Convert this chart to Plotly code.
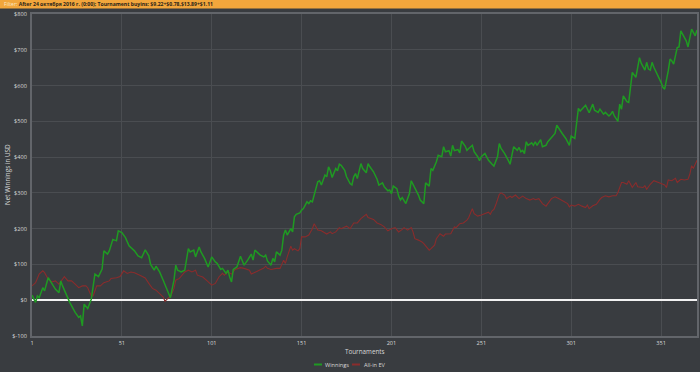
import plotly.graph_objects as go

# ---- data ----
win_t = [1,3,4,5,7,8,10,12,14,16,17,18,20,22,25,27,28,29,30,32,34,36,38,40,41,43,44,46,48,49,51,53,55,58,60,62,
         64,66,67,69,70,72,74,76,78,80,81,82,84,86,87,88,89,91,92,94,95,97,99,101,103,104,106,107,109,110,111,112,113,115,117,118,119,121,123,124,125,128,
         130,131,132,134,135,136,137,139,140,141,142,143,145,146,147,148,150,151,152,154,155,156,157,158,160,161,162,164,165,166,167,168,170,171,172,173,175,176,178,179,180,181,182,184,185,187,188,189,191,
         193,194,196,197,199,200,201,202,204,205,206,207,209,211,212,214,216,217,219,220,222,223,224,226,227,229,230,231,233,234,235,236,238,239,240,242,243,244,246,247,249,250,251,253,255,
         257,258,260,261,262,264,266,267,268,269,271,272,273,274,275,276,277,279,280,281,282,284,285,287,288,290,291,292,293,295,296,298,299,300,301,303,304,305,306,308,309,311,313,314,316,
         317,319,320,322,323,324,325,327,328,329,330,332,333,334,335,337,338,339,340,342,343,344,345,346,347,349,351,352,353,355,356,357,358,360,361,362,363,365,366,367,368,370,371]
winnings = [14,-6,12,7,35,26,63,45,31,21,54,40,17,-6,-34,-48,-44,-72,-11,-23,3,73,66,87,138,129,138,170,166,194,189,175,152,138,124,119,
            141,124,100,84,95,79,56,33,7,56,98,84,79,84,117,144,135,140,121,149,135,117,93,121,107,103,86,89,75,84,65,51,86,93,123,112,98,112,129,112,140,126,
            121,126,110,98,117,107,135,126,140,182,196,182,200,191,233,240,244,252,256,275,270,278,275,294,331,334,322,350,345,373,362,343,368,362,380,377,363,345,326,322,345,354,340,382,368,356,382,373,359,
            338,322,328,317,306,308,298,319,312,291,280,287,270,298,334,315,294,280,270,328,319,368,363,387,405,401,429,415,418,403,433,418,421,412,445,431,419,424,433,415,401,390,401,410,391,
            380,375,401,438,424,410,391,380,405,429,419,427,415,419,410,443,433,440,433,443,433,449,429,433,443,455,461,466,489,471,466,452,443,433,459,452,494,536,529,541,545,524,548,531,525,
            534,520,525,515,520,528,515,500,548,534,571,555,553,593,637,623,651,678,662,643,665,646,643,665,651,632,609,595,590,641,674,669,660,706,708,753,742,725,708,734,758,739,755]

ev_t = [1,3,5,7,8,10,12,14,16,18,19,21,23,25,27,29,31,32,34,35,37,39,41,44,45,48,50,52,54,56,58,61,64,66,68,70,72,74,75,77,78,80,81,83,86,88,90,92,93,96,98,101,103,105,107,108,110,112,114,117,119,122,123,126,128,
        130,131,132,134,137,139,141,142,143,145,146,147,149,150,151,153,155,157,158,160,162,165,167,168,170,172,173,176,178,180,182,184,187,188,191,193,195,197,199,201,203,205,207,208,210,212,213,214,216,218,219,221,222,223,225,226,228,230,231,234,236,237,239,241,243,244,246,247,249,251,253,255,256,257,258,259,
        261,262,264,265,267,268,270,272,274,276,278,280,281,283,285,287,290,292,294,297,299,300,301,303,305,307,309,310,311,313,315,317,318,320,322,324,326,327,329,330,332,333,335,337,338,341,342,343,345,347,349,351,353,354,355,357,359,360,362,364,366,367,368,369,370,371]
allin_ev = [40,49,73,82,77,59,51,54,45,59,66,54,54,45,35,40,40,35,12,12,40,40,49,54,61,63,66,82,75,79,77,70,62,47,33,28,19,9,-3,7,9,33,56,61,79,84,79,84,70,65,56,42,47,65,75,70,79,73,86,91,89,84,73,79,85,
            90,95,89,86,89,89,112,103,121,151,140,144,138,144,177,177,182,200,214,196,194,185,191,186,191,203,200,207,200,216,216,228,240,231,226,216,212,205,194,200,203,191,198,203,196,203,191,172,168,163,158,144,140,144,154,172,186,179,185,186,205,203,214,216,224,231,256,242,235,238,242,246,240,250,254,266,
            296,300,294,284,291,287,294,284,291,284,280,284,281,284,270,263,284,289,284,275,270,261,266,263,268,263,259,266,256,264,268,282,287,292,289,292,292,301,329,329,324,334,315,329,317,315,320,310,324,334,329,326,322,315,336,334,341,329,338,336,338,352,376,369,380,391]

x_tickvals = [1, 51, 101, 151, 201, 251, 301, 351]
y_tickvals = [-100, 0, 100, 200, 300, 400, 500, 600, 700, 800]
y_ticktext = ["$-100", "$0", "$100", "$200", "$300", "$400", "$500", "$600", "$700", "$800"]
series_names = ["Winnings", "All-in EV"]
series_colors = ["#1f9a22", "#8a2c2c"]

BG = "#393c40"
GRID = "#4a4d51"
AXIS = "#62656a"
TXT = "#d8d8d8"
FONT = "Open Sans"

L, R, T, B = 32, 3, 14, 36
W, H = 700, 372
PW, PH = W - L - R, H - T - B


def px_x(p):
    return (p - L) / PW


def px_y(p):
    return (H - B - p) / PH


fig = go.Figure()
fig.add_trace(go.Scatter(x=ev_t, y=allin_ev, mode="lines", name=series_names[1],
                         line=dict(color=series_colors[1], width=1.1)))
fig.add_trace(go.Scatter(x=win_t, y=winnings, mode="lines", name=series_names[0],
                         line=dict(color=series_colors[0], width=1.5)))

shapes = [
    dict(type="rect", xref="paper", yref="paper",
         x0=px_x(0), x1=px_x(W), y0=px_y(8.5), y1=px_y(0),
         fillcolor="#f2a63c", line=dict(width=0), layer="above"),
]
annotations = [
    dict(xref="paper", yref="paper", x=px_x(2), y=px_y(4.3), xanchor="left", yanchor="middle",
         showarrow=False,
         text="<span style='color:#fbe9c8'>Filter:</span> <b>After 24 октября 2016 г. (0:00); Tournament buyins: $9.22+$0.78,$13.89+$1.11</b>",
         font=dict(size=5.1, color="#2b2418", family=FONT)),
    dict(xref="paper", yref="paper", x=px_x(7), y=0.5, xanchor="center", yanchor="middle",
         showarrow=False, textangle=-90, text="Net Winnings in USD",
         font=dict(size=6.3, color=TXT, family=FONT)),
    dict(xref="paper", yref="paper", x=0.5, y=px_y(351), xanchor="center", yanchor="middle",
         showarrow=False, text="Tournaments",
         font=dict(size=6.3, color=TXT, family=FONT)),
]
# custom compact legend
legend_pos = [(314, 323), (352, 362)]
for (lx, tx), name, col in zip(legend_pos, series_names, series_colors):
    shapes.append(dict(type="line", xref="paper", yref="paper",
                       x0=px_x(lx), x1=px_x(lx + 8), y0=px_y(364.5), y1=px_y(364.5),
                       line=dict(color=col, width=2)))
    annotations.append(dict(xref="paper", yref="paper", x=px_x(tx), y=px_y(364.5),
                            xanchor="left", yanchor="middle", showarrow=False, text=name,
                            font=dict(size=5.6, color=TXT, family=FONT)))

fig.update_layout(
    width=W, height=H,
    margin=dict(l=L, r=R, t=T, b=B, autoexpand=False),
    paper_bgcolor=BG, plot_bgcolor=BG,
    font=dict(family=FONT, size=6, color=TXT),
    showlegend=False,
    xaxis=dict(range=[1, 371], tickvals=x_tickvals, ticktext=[str(v) for v in x_tickvals],
               showgrid=True, gridcolor=GRID, gridwidth=1, automargin=False,
               showline=True, linecolor=AXIS, linewidth=2, mirror=True,
               zeroline=False, ticks="", tickfont=dict(size=5.6, color=TXT)),
    yaxis=dict(range=[-100, 800], tickvals=y_tickvals, ticktext=y_ticktext,
               showgrid=True, gridcolor=GRID, gridwidth=1, automargin=False,
               showline=True, linecolor=AXIS, linewidth=2, mirror=True,
               zeroline=True, zerolinecolor="#f2f2f2", zerolinewidth=2,
               ticks="", ticklabelstandoff=2, tickfont=dict(size=5.6, color=TXT)),
    shapes=shapes,
    annotations=annotations,
)

fig.write_html(
    "out.html",
    config={"displayModeBar": False},
    post_script="document.body.style.margin='0';document.body.style.padding='0';"
                "document.body.style.overflow='hidden';document.body.style.background='" + BG + "';",
)
